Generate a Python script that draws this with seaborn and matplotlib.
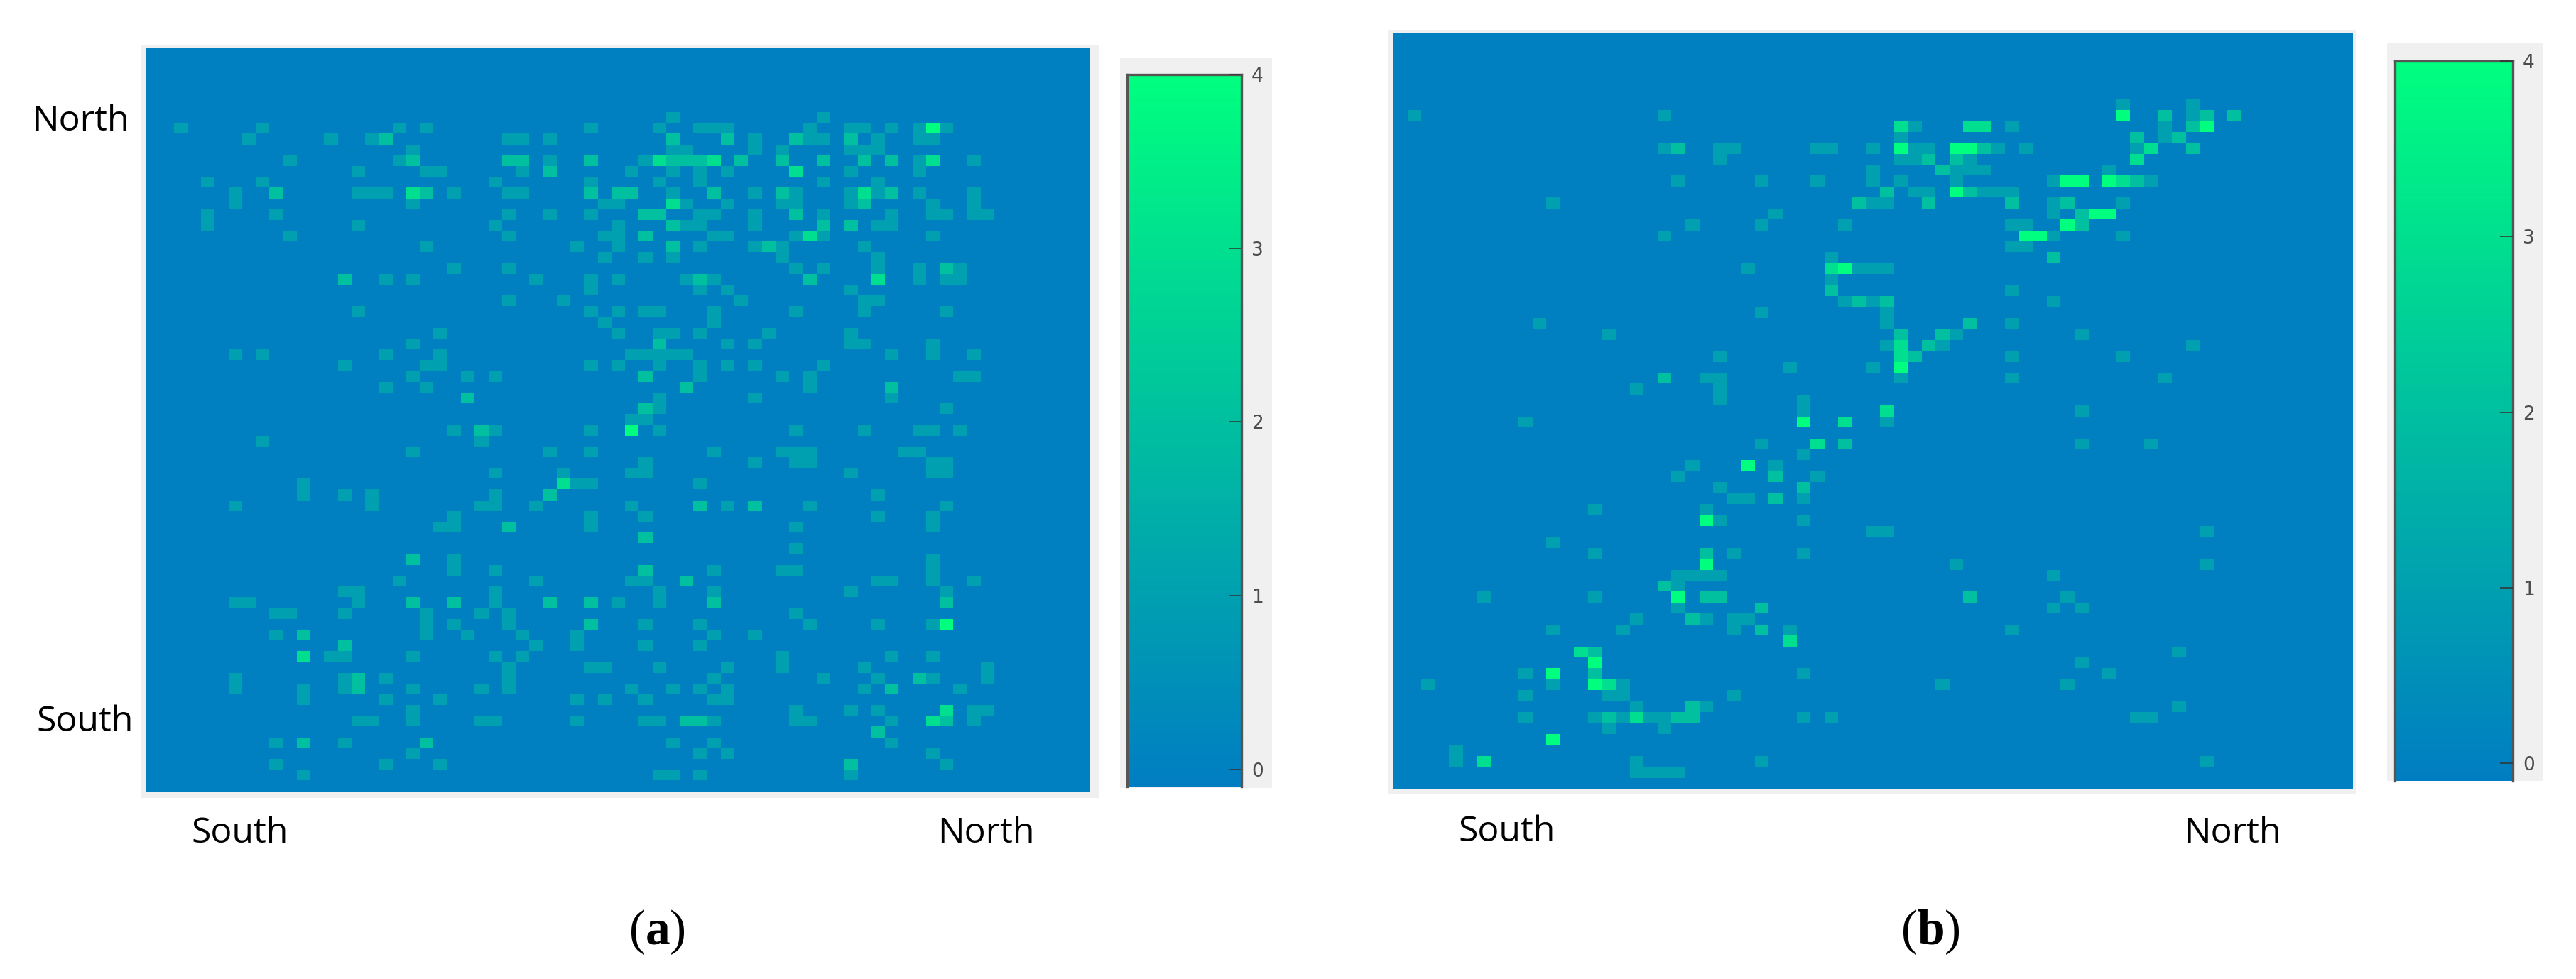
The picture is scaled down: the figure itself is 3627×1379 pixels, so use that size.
import matplotlib
matplotlib.use("Agg")
import matplotlib.pyplot as plt
import seaborn as sns
import numpy as np
from matplotlib.colors import LinearSegmentedColormap
from matplotlib.patches import Rectangle

sns.set_theme(style="white")
plt.rcParams['font.family'] = ['Open Sans', 'DejaVu Sans']
plt.rcParams['mathtext.fontset'] = 'custom'
plt.rcParams['mathtext.bf'] = 'Liberation Serif:bold'
plt.rcParams['mathtext.rm'] = 'Liberation Serif'

GRID_SIZE = 69
cbar_ticks = [0, 1, 2, 3, 4]

# Panel (a): {row: [columns]} per cell value, everything else is 0
a_ones = {
    6: [38, 49],
    7: [2, 8, 18, 20, 32, 37, 40, 41, 42, 48, 51, 52, 54, 56, 58],
    8: [7, 13, 16, 26, 27, 29, 44, 48, 49, 53, 56, 57],
    9: [19, 38, 39, 44, 46, 51, 52, 53],
    10: [10, 18, 29, 36, 56, 60],
    11: [15, 20, 21, 27, 35, 38, 40, 42, 51, 56],
    12: [4, 8, 25, 32, 37, 40, 49, 53],
    13: [6, 15, 16, 17, 22, 26, 27, 38, 44, 47, 51, 53, 56, 60],
    14: [6, 19, 33, 34, 39, 42, 46, 47, 51, 57, 60],
    15: [4, 9, 26, 29, 32, 40, 41, 44, 49, 54, 57, 58, 60, 61],
    16: [4, 15, 25, 34, 39, 40, 44, 53, 54],
    17: [10, 26, 33, 34, 41, 42, 47, 49, 57],
    18: [20, 31, 34, 40, 44, 46, 52],
    19: [33, 36, 38, 46, 53],
    20: [22, 26, 47, 49, 53, 56, 59],
    21: [17, 19, 28, 32, 34, 39, 41, 56, 58, 59],
    22: [32, 40, 42, 51],
    23: [26, 30, 43, 52, 53],
    24: [15, 32, 34, 36, 37, 41, 47, 52, 58],
    25: [33, 41],
    26: [21, 34, 37, 38, 40, 45, 51],
    27: [19, 42, 44, 51, 52, 57],
    28: [6, 8, 17, 21, 35, 36, 37, 38, 39, 54, 57, 60],
    29: [14, 20, 21, 32, 34, 37, 40, 42, 44, 49],
    30: [19, 23, 25, 40, 46, 48, 59, 60],
    31: [17, 20, 48],
    32: [37, 44, 54],
    33: [37, 58],
    34: [35, 36],
    35: [22, 25, 32, 37, 47, 52, 56, 57, 59],
    36: [8, 24],
    37: [19, 29, 32, 41, 46, 47, 48, 55, 56],
    38: [36, 44, 47, 48, 57, 58],
    39: [25, 30, 35, 36, 51, 57, 58],
    40: [11, 31, 32, 40],
    41: [11, 14, 16, 25, 53],
    42: [6, 16, 24, 25, 28, 35, 42, 48, 58],
    43: [22, 32, 36, 53, 57],
    44: [21, 22, 32, 47, 57],
    46: [47],
    47: [22, 57],
    48: [22, 25, 41, 46, 47, 57],
    49: [18, 28, 35, 36, 53, 54, 57, 60],
    50: [14, 15, 25, 37, 41, 51, 58],
    51: [6, 7, 15, 25, 34, 37],
    52: [9, 10, 14, 20, 24, 26, 47],
    53: [20, 22, 26, 36, 40, 48, 53, 57],
    54: [9, 20, 23, 27, 31, 41, 44],
    55: [28, 31, 36, 40],
    56: [13, 14, 19, 25, 27, 46, 54, 57],
    57: [26, 32, 33, 37, 42, 46, 52, 61],
    58: [6, 14, 17, 26, 41, 49, 53, 57, 61],
    59: [6, 11, 14, 19, 24, 26, 35, 38, 40, 42, 52, 59],
    60: [11, 17, 21, 31, 33, 36, 41, 42],
    61: [19, 47, 51, 53, 60, 61],
    62: [15, 16, 19, 24, 25, 31, 36, 37, 41, 47, 48, 54, 60],
    64: [9, 14, 38, 41, 54],
    65: [19, 40, 42, 57],
    66: [9, 17, 21, 58],
    67: [11, 37, 38, 40, 51],
}
a_twos = {
    8: [17, 38, 42, 47, 51],
    10: [19, 26, 27, 32, 38, 39, 40, 43, 46, 49, 52, 54],
    11: [29],
    13: [9, 20, 32, 34, 35, 41, 46, 54],
    14: [52],
    15: [36, 37, 47],
    16: [38, 49, 51],
    17: [36],
    18: [38, 45],
    20: [58],
    21: [14, 40, 48],
    27: [37],
    30: [36],
    31: [39, 54],
    32: [23],
    33: [36],
    35: [24],
    41: [29],
    42: [40, 44],
    44: [26],
    45: [36],
    47: [19],
    48: [36],
    49: [39],
    51: [19, 22, 29, 32, 41, 58],
    53: [32],
    54: [11],
    55: [14],
    58: [15, 56],
    59: [15, 54],
    62: [39, 40, 58],
    63: [53],
    64: [11, 20],
    66: [51],
}
a_threes = {
    10: [37, 41, 57],
    11: [47],
    13: [19, 52],
    14: [38],
    17: [48],
    21: [53],
    40: [30],
    56: [11],
    61: [58],
    62: [57],
}
a_fours = {
    7: [57],
    35: [35],
    53: [58],
}

# Panel (b)
b_ones = {
    6: [52, 57],
    7: [1, 19, 57],
    8: [37, 44, 55],
    9: [36, 55],
    10: [19, 23, 24, 30, 31, 34, 37, 38, 43, 45, 53],
    11: [23, 36, 37, 41],
    12: [34, 40, 41, 42, 51],
    13: [20, 26, 30, 34, 36, 40, 47, 54],
    14: [37, 38, 42, 43, 44],
    15: [11, 34, 35, 47, 52],
    16: [27, 47],
    17: [21, 26, 32, 44, 45],
    18: [19, 47, 52],
    19: [44, 45],
    20: [31],
    21: [25, 33, 34, 35],
    22: [31],
    23: [44],
    24: [32, 34, 47],
    25: [26, 35],
    26: [10, 35, 44],
    27: [15, 40, 49],
    28: [35, 39, 57],
    29: [23, 44, 52],
    30: [28, 34],
    31: [22, 23, 36, 44, 55],
    32: [17, 23],
    33: [23, 29],
    34: [29, 49],
    35: [9, 35],
    37: [26, 49, 54],
    38: [29],
    39: [21, 27],
    40: [20, 30],
    41: [23],
    42: [24, 25, 29],
    43: [14, 22],
    44: [23, 29],
    45: [34, 35, 58],
    46: [11],
    47: [14, 24, 29],
    48: [40, 58],
    49: [20, 21, 22, 23, 47],
    50: [20],
    51: [6, 14, 48],
    52: [20, 47, 49],
    53: [17, 22, 24, 25],
    54: [11, 16, 24, 28, 44],
    56: [56],
    57: [49],
    58: [9, 29, 51],
    59: [2, 11, 16, 39, 48],
    60: [9, 15, 16, 24],
    61: [17, 22, 56],
    62: [9, 14, 16, 18, 19, 29, 31, 53, 54],
    63: [15, 19],
    65: [4],
    66: [4, 17, 26, 58],
    67: [17, 18, 19, 20],
}
b_twos = {
    7: [55, 58, 60],
    8: [57],
    9: [53, 56],
    10: [20, 42, 57],
    11: [38, 40],
    12: [39],
    13: [53],
    14: [35, 41],
    15: [33, 38, 44, 48],
    16: [49],
    17: [49],
    20: [47],
    23: [31],
    24: [33, 35],
    26: [41],
    27: [36, 39],
    28: [38],
    29: [37],
    31: [19],
    37: [32],
    40: [27],
    41: [29],
    42: [27],
    47: [22],
    50: [19],
    51: [22, 23, 41],
    52: [26],
    53: [21],
    54: [26],
    56: [14],
    58: [14],
    61: [21],
    62: [15, 20, 21],
}
b_threes = {
    8: [36, 41, 42],
    10: [54],
    11: [53],
    13: [52],
    21: [31],
    28: [36],
    29: [36],
    34: [35],
    35: [32],
    37: [30],
    55: [28],
    56: [13],
    59: [15],
    62: [17],
    66: [6],
}
b_fours = {
    7: [52],
    8: [58],
    10: [36, 40, 41],
    13: [48, 49, 51],
    14: [40],
    16: [50, 51],
    17: [48],
    18: [45, 46],
    21: [32],
    30: [36],
    35: [29],
    39: [25],
    44: [22],
    48: [22],
    51: [20],
    57: [14],
    58: [11],
    59: [14],
    64: [11],
}

W, H = 3627, 1379


def px_rect(x0, y0, x1, y1):
    # pixel box (y from the top) -> figure fractions
    return [x0 / W, 1 - y1 / H, (x1 - x0) / W, (y1 - y0) / H]


def build_matrix(levels):
    m = np.zeros((GRID_SIZE, GRID_SIZE))
    for value, cells in levels.items():
        for row, cols in cells.items():
            m[row, cols] = value
    return m


matrix_a = build_matrix({1: a_ones, 2: a_twos, 3: a_threes, 4: a_fours})
matrix_b = build_matrix({1: b_ones, 2: b_twos, 3: b_threes, 4: b_fours})

# blue to spring green, the bar starts a bit below 0
cmap = LinearSegmentedColormap.from_list("blue_green", ["#007DC2", "#00FF7F"])

fig = plt.figure(figsize=(W / 100, H / 100), dpi=100, facecolor='white')


def draw_panel(matrix, heat_box, heat_bg, cbar_box, cbar_bg):
    for box in (heat_bg, cbar_bg):
        x, y, w, h = px_rect(*box)
        fig.add_artist(Rectangle((x, y), w, h, transform=fig.transFigure,
                                 facecolor='#f0f0f0', edgecolor='none', zorder=-1))
    ax = fig.add_axes(px_rect(*heat_box))
    cax = fig.add_axes(px_rect(*cbar_box))
    sns.heatmap(matrix, ax=ax, cbar_ax=cax, cmap=cmap, vmin=-0.1, vmax=4,
                xticklabels=False, yticklabels=False,
                cbar_kws={'ticks': cbar_ticks})
    # seaborn's style puts the axis below the colour strip, ticks need to be on top
    cax.set_axisbelow(False)
    cax.tick_params(axis='y', direction='in', length=13, width=1.1, color='#333333',
                    labelcolor='#4d4d4d', labelsize=19, pad=10, right=True,
                    labelfontfamily='DejaVu Sans')
    for name in ('left', 'right', 'top'):
        cax.spines[name].set_visible(True)
        cax.spines[name].set_color('#555555')
        cax.spines[name].set_linewidth(2.4)
    return ax


draw_panel(matrix_a, (206, 67, 1535, 1114.5), (199, 64, 1547, 1124),
           (1587, 105, 1748, 1108), (1577, 81, 1791, 1110))
draw_panel(matrix_b, (1962, 47, 3312.5, 1111), (1955, 42, 3317, 1119),
           (3372, 86, 3538, 1100), (3361, 61, 3580, 1100))

# axis words
labels = [
    ('North', 113, 171), ('South', 120, 1017),
    ('South', 338, 1174), ('North', 1388, 1174),
    ('South', 2122, 1172), ('North', 3143, 1174),
]
for text, x, y in labels:
    fig.text(x / W, 1 - y / H, text, fontsize=36, color='black', ha='center', va='center')

fig.text(925 / W, 1 - 1313 / H, r'($\mathbf{a}$)', fontsize=50, color='black',
         ha='center', va='center', family='Liberation Serif')
fig.text(2718 / W, 1 - 1313 / H, r'($\mathbf{b}$)', fontsize=50, color='black',
         ha='center', va='center', family='Liberation Serif')

plt.savefig('out.png', dpi=100)
plt.close()
